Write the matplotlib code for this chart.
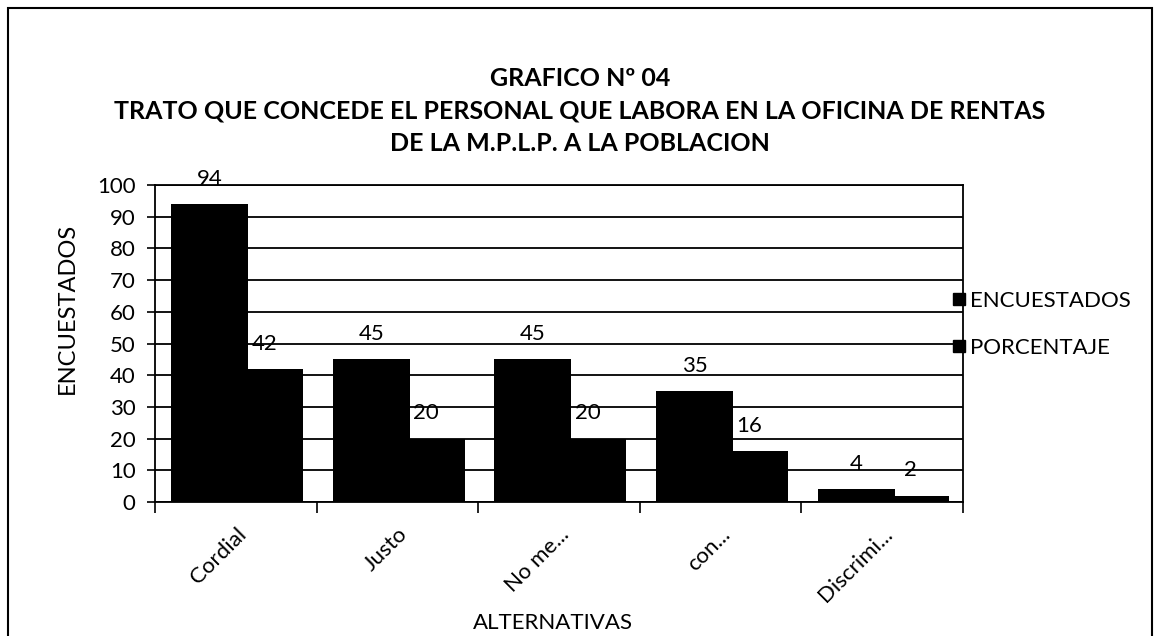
import numpy as np
import matplotlib
matplotlib.use('Agg')
import matplotlib.pyplot as plt
from matplotlib.patches import Rectangle
from matplotlib.lines import Line2D

plt.rcParams['font.family'] = ['Lato', 'DejaVu Sans']

categorias = ['Cordial', 'Justo', 'No me...', 'con...', 'Discrimi...']
encuestados = [94, 45, 45, 35, 4]
porcentaje = [42, 20, 20, 16, 2]
series = ['ENCUESTADOS', 'PORCENTAJE']
titulo = 'GRAFICO Nº 04\nTRATO QUE CONCEDE EL PERSONAL QUE LABORA EN LA OFICINA DE RENTAS\nDE LA M.P.L.P. A LA POBLACION'

fig = plt.figure(figsize=(11.6, 6.36), dpi=100)
ax = fig.add_axes([0.1336, 0.2107, 0.6966, 0.4984])

x = np.arange(len(categorias))
w1 = 0.476
w2 = 0.34
start = x - 0.5 + 0.1
ax.bar(start, encuestados, width=w1, align='edge', color='black', zorder=3)
ax.bar(start + w1, porcentaje, width=w2, align='edge', color='black', zorder=3)

for i in range(len(categorias)):
    ax.annotate(str(encuestados[i]), (start[i] + w1 / 2, encuestados[i]),
                xytext=(0, 11), textcoords='offset points', ha='center', va='bottom', fontsize=16)
    ax.annotate(str(porcentaje[i]), (start[i] + w1 + w2 / 2 - 0.07, porcentaje[i]),
                xytext=(0, 11), textcoords='offset points', ha='center', va='bottom', fontsize=16)

ax.set_xlim(-0.5, len(categorias) - 0.5)
ax.set_ylim(0, 100)
ax.set_yticks(range(0, 101, 10))
ax.yaxis.grid(True, color='black', linewidth=1.3, zorder=0)
ax.set_axisbelow(True)
ax.tick_params(axis='y', direction='out', length=6, width=1.2, labelsize=16, pad=8)
ax.set_xticks(np.arange(-0.5, len(categorias), 1.0))
ax.set_xticklabels([])
ax.set_xticks(x, minor=True)
ax.set_xticklabels(categorias, minor=True, rotation=45, ha='right', rotation_mode='anchor', fontsize=16)
ax.tick_params(axis='x', which='major', direction='out', length=8, width=1.2)
ax.tick_params(axis='x', which='minor', length=0, pad=16)
for s in ax.spines.values():
    s.set_linewidth(1.3)
    s.set_color('black')

ax.set_ylabel('ENCUESTADOS', fontsize=17)
ax.yaxis.set_label_coords(-0.095, 0.61)
ax.set_xlabel('ALTERNATIVAS', fontsize=16)
ax.xaxis.set_label_coords(0.493, -0.35)

fig.text(0.5, 0.825, titulo, ha='center', va='center', fontsize=18, fontweight='bold', linespacing=1.5)

handles = [Line2D([], [], marker='s', color='black', linestyle='none', markersize=9) for _ in series]
fig.legend(handles, series, loc='center left', bbox_to_anchor=(0.8, 0.49), frameon=False,
           fontsize=16, handletextpad=0.0, labelspacing=1.2, handlelength=1.0)

fig.patches.append(Rectangle((8 / 1160, -10 / 636), 1144 / 1160, 638 / 636, transform=fig.transFigure,
                             fill=False, edgecolor='black', linewidth=1.5))

fig.savefig('out.png', dpi=100)
